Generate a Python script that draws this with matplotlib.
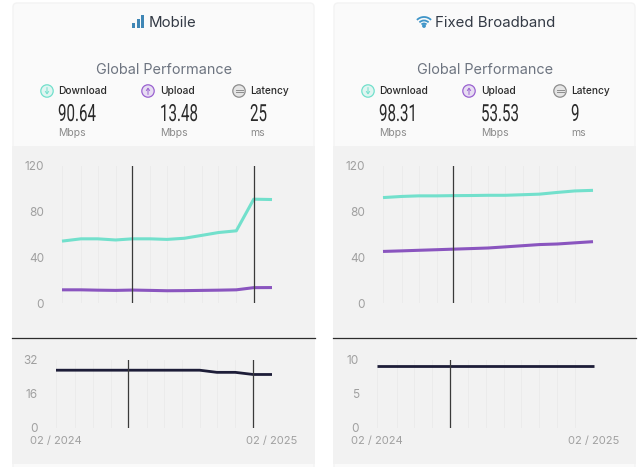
import numpy as np
import matplotlib
matplotlib.use("Agg")
import matplotlib.pyplot as plt
from matplotlib.patches import Rectangle, FancyBboxPatch, Circle, Arc
from matplotlib.patheffects import AbstractPathEffect
from matplotlib.transforms import Affine2D

W = 640
H = 467

# values, one per month 02/2024 .. 02/2025
# time axis as fraction of the year, months are not evenly long
months = [0, .09, .17, .255, .335, .42, .5, .583, .665, .745, .83, .913, 1]
date_labels = ["02 / 2024", "02 / 2025"]
date_ticks = [0, 1]

mobile_download = [54, 56, 56, 55, 56, 56, 55.5, 56.5, 59, 61.5, 63, 90.6, 90.3]
mobile_upload = [11.5, 11.5, 11.2, 11, 11.3, 11, 10.7, 10.8, 11, 11.2, 11.5, 13.4, 13.48]
mobile_latency = [27, 27, 27, 27, 27, 27, 27, 27, 27, 26, 26, 25, 25]
mobile_marks = [.335, .913]

fixed_download = [92, 93, 93.5, 93.5, 93.7, 93.8, 94, 94, 94.5, 95, 96.5, 97.8, 98.31]
fixed_upload = [45, 45.5, 46, 46.5, 47, 47.5, 48, 49, 50, 51, 51.5, 52.5, 53.53]
fixed_latency = [9, 9, 9, 9, 9, 9, 9, 9, 9, 9, 9, 9, 9]
fixed_marks = [.335]

speed_ticks = [0, 40, 80, 120]
mobile_latency_ticks = [0, 16, 32]
fixed_latency_ticks = [0, 5, 10]

mobile_stats = ["90.64", "13.48", "25"]
fixed_stats = ["98.31", "53.53", "9"]
stat_names = ["Download", "Upload", "Latency"]
stat_units = ["Mbps", "Mbps", "ms"]

TEAL = "#72e0cc"
PURPLE = "#8a55bf"
NAVY = "#1d1d38"
GREY = "#a0a0a0"
plt.rcParams["font.family"] = ["Inter", "DejaVu Sans"]

fig = plt.figure(figsize=(6.4, 4.67), dpi=100, facecolor="white")
bg = fig.add_axes([0, 0, 1, 1])
bg.set_xlim(0, W)
bg.set_ylim(H, 0)
bg.axis("off")


# no condensed font installed, so squeeze the glyphs sideways
class Squeeze(AbstractPathEffect):
    def __init__(self, x, factor):
        super().__init__()
        self.x = x
        self.factor = factor

    def draw_path(self, renderer, gc, tpath, affine, rgbFace=None):
        t = affine + Affine2D().translate(-self.x, 0).scale(self.factor, 1).translate(self.x, 0)
        renderer.draw_path(gc, tpath, t, rgbFace)


def chart_axes(x0, x1, ytop, ybottom):
    ax = fig.add_axes([x0 / W, 1 - ybottom / H, (x1 - x0) / W, (ybottom - ytop) / H])
    ax.patch.set_alpha(0)
    for s in ax.spines.values():
        s.set_visible(False)
    return ax


def draw_series(ax, series, colors, marks, yticks, lw):
    ax.set_xlim(months[0], months[-1])
    ax.set_ylim(yticks[0], yticks[-1])
    for m in months:
        ax.axvline(m, color="#ebebeb", lw=0.7, zorder=1)
    for vals, c in zip(series, colors):
        ax.plot(months, vals, color=c, lw=lw, zorder=2, solid_capstyle="butt", clip_on=False)
    for m in marks:
        ax.axvline(m, color="#3a3a3a", lw=0.9, zorder=3)
    ax.set_yticks(yticks)
    ax.set_yticklabels([str(t) for t in yticks], color=GREY, fontsize=8.5)
    ax.tick_params(axis="y", length=0, pad=13)
    ax.set_xticks([])


def stat_icon(cx, cy, color, kind):
    bg.add_patch(Circle((cx, cy), 6.2, facecolor=color + "30", edgecolor=color, lw=0.9))
    if kind == "Download":
        bg.annotate("", (cx, cy + 3.5), (cx, cy - 3.5), arrowprops=dict(arrowstyle="->,head_width=0.12,head_length=0.16", color=color, lw=0.7, shrinkA=0, shrinkB=0))
    elif kind == "Upload":
        bg.annotate("", (cx, cy - 3.5), (cx, cy + 3.5), arrowprops=dict(arrowstyle="->,head_width=0.12,head_length=0.16", color=color, lw=0.7, shrinkA=0, shrinkB=0))
    else:
        bg.plot([cx - 3.5, cx + 3.5], [cy - 1.3, cy - 1.3], color=color, lw=0.7)
        bg.plot([cx - 3.5, cx + 3.5], [cy + 1.3, cy + 1.3], color=color, lw=0.7)


def draw_panel(left, title, title_x, stats, speed_x, lat_x, speed, lat, marks, lat_ticks):
    right = left + 303
    bg.add_patch(FancyBboxPatch((left + 1, 3), 301, 470, boxstyle="round,pad=0,rounding_size=4", facecolor="#fafafa", edgecolor="#f3f3f3", lw=1))
    bg.add_patch(Rectangle((left, 146), 303, 318, facecolor="#f2f2f2", edgecolor="none"))
    bg.plot([left, right], [338, 338], color="#2c2c2c", lw=0.9)
    bg.text(title_x, 23, title, fontsize=10.8, color="#333a45", va="center", ha="left")
    bg.text(left + 152, 70, "Global Performance", fontsize=10.4, color="#6d7480", ha="center", va="center")
    icon_x = [35, 136, 227]
    name_x = [46, 148, 238]
    colors = ["#72e0cc", "#9a62d0", "#8d8d8d"]
    for i in range(3):
        stat_icon(left + icon_x[i], 91, colors[i], stat_names[i])
        bg.text(left + name_x[i], 91.5, stat_names[i], fontsize=7.3, color="#2a2a2a", va="center", fontweight="medium")
        bg.text(left + name_x[i], 114.5, stats[i], fontsize=17, color="#2a2a2a", ha="left", va="center",
                family=["Roboto", "DejaVu Sans"], fontweight="normal",
                path_effects=[Squeeze(left + name_x[i], 0.64)])
        bg.text(left + name_x[i], 132.5, stat_units[i], fontsize=7.5, color="#8a8a8a", ha="left", va="center")
    ax = chart_axes(speed_x[0], speed_x[1], 165.5, 303)
    draw_series(ax, speed, [TEAL, PURPLE], marks, speed_ticks, 2.2)
    ax2 = chart_axes(lat_x[0], lat_x[1], 359.5, 428)
    draw_series(ax2, [lat], [NAVY], marks, lat_ticks, 2.0)
    ax2.set_xticks(date_ticks)
    ax2.set_xticklabels(date_labels, color=GREY, fontsize=8)
    ax2.tick_params(axis="x", length=0, pad=6)


draw_panel(12, "Mobile", 149, mobile_stats, (62, 272), (56, 272),
           [mobile_download, mobile_upload], mobile_latency, mobile_marks, mobile_latency_ticks)
draw_panel(333, "Fixed Broadband", 435, fixed_stats, (383, 593), (377, 594),
           [fixed_download, fixed_upload], fixed_latency, fixed_marks, fixed_latency_ticks)

# signal bars icon
for bx, bh in zip([131.5, 136.5, 141], [5, 9, 13]):
    bg.add_patch(Rectangle((bx, 28 - bh), 3.2, bh, facecolor="#3f86b5", edgecolor="none"))
# wifi icon
for d, a in zip([20, 13, 7], [1.3, 1.3, 1.3]):
    bg.add_patch(Arc((424, 27), d, d, theta1=225, theta2=315, color="#3f95c8", lw=a))
bg.add_patch(Circle((424, 26), 1.2, color="#3f95c8"))

fig.savefig("out.png", dpi=100)
